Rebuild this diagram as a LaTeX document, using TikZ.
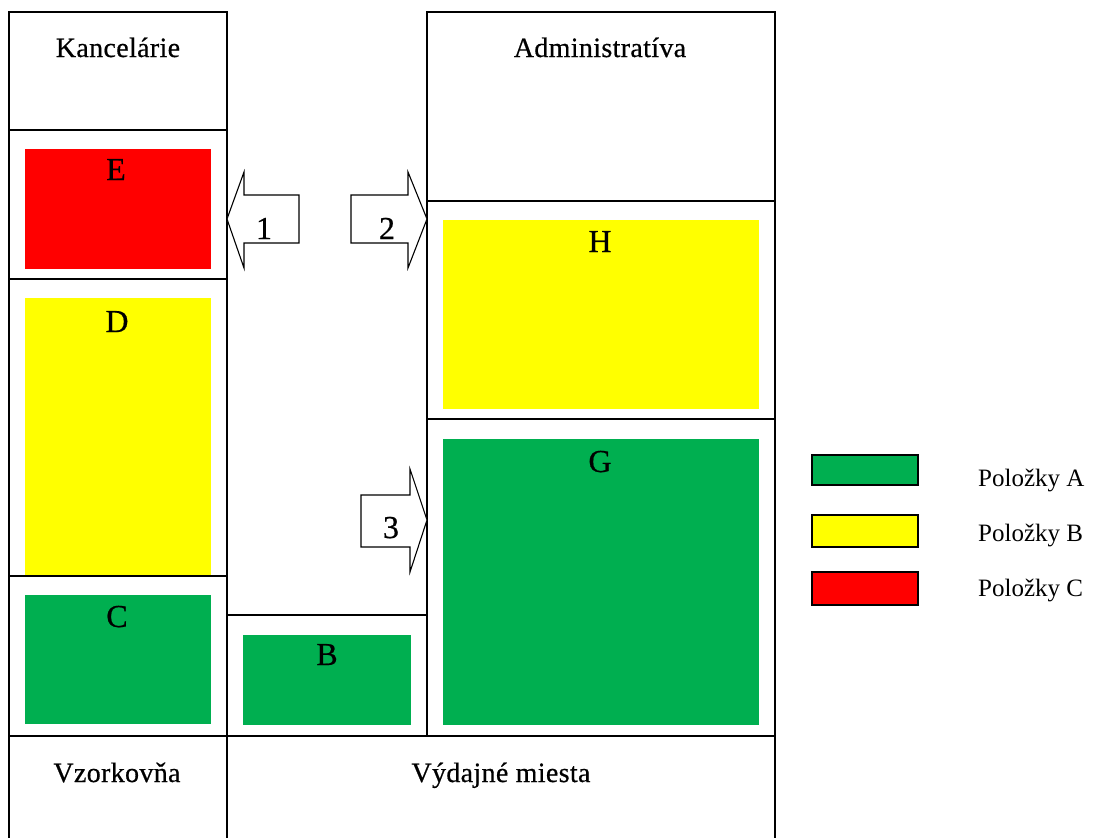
\documentclass[tikz,border=0pt]{standalone}
\usepackage{fontspec}
\setmainfont{Liberation Serif}
\newfontfamily\roomfont[FakeBold=0.6,LetterSpace=1.2]{Liberation Serif}
\newfontfamily\zonefont[FakeBold=0.6]{Liberation Serif}
\begin{document}
\begin{tikzpicture}[x=1pt,y=-1pt,
  wall/.style={draw=black,line width=1.3pt},
  room/.style={anchor=base,inner sep=0pt,font=\roomfont\fontsize{28}{31}\selectfont},
  zlabel/.style={anchor=base,inner sep=0pt,font=\zonefont\fontsize{32}{35}\selectfont},
  leg/.style={anchor=base west,inner sep=0pt,font=\fontsize{25}{28}\selectfont},
  legbox/.style={draw=black,line width=1.3pt},
  flow/.style={draw=black,line width=1.1pt,fill=white,line join=miter}]
\definecolor{zgreen}{HTML}{00AF50}
\definecolor{zyellow}{HTML}{FFFF00}
\definecolor{zred}{HTML}{FF0000}
\useasboundingbox (0,0) rectangle (1093,838);
% coloured zones
\fill[zred]    (25,149) rectangle (211,269);
\fill[zyellow] (25,298) rectangle (211,576);
\fill[zgreen]  (25,595) rectangle (211,724);
\fill[zgreen]  (243,635) rectangle (411,725);
\fill[zyellow] (443,220) rectangle (759,409);
\fill[zgreen]  (443,439) rectangle (759,725);
% walls
\draw[wall] (9,838) -- (9,12) -- (227,12) -- (227,838);
\draw[wall] (9,130) -- (227,130);
\draw[wall] (9,279) -- (227,279);
\draw[wall] (9,576) -- (227,576);
\draw[wall] (9,736) -- (775,736);
\draw[wall] (227,615) -- (427,615);
\draw[wall] (427,736) -- (427,12) -- (775,12) -- (775,838);
\draw[wall] (427,201) -- (775,201);
\draw[wall] (427,419) -- (775,419);
% flow arrows
\draw[flow] (227,219) -- (244,172) -- (244,195) -- (299,195) -- (299,243) -- (244,243) -- (244,268) -- cycle;
\draw[flow] (427,219) -- (408,172) -- (408,195) -- (351,195) -- (351,243) -- (408,243) -- (408,268) -- cycle;
\draw[flow] (427,520) -- (410,469) -- (410,495) -- (361,495) -- (361,547) -- (410,547) -- (410,572) -- cycle;
% room names
\node[room] (kanc) at (118,57) {Kancelárie};
\node[room] (adm) at (600,57) {Administratíva};
\node[room] (vzor) at (117,782) {Vzorkovňa};
\node[room] (vyd) at (501,782) {Výdajné miesta};
% zone letters
\node[zlabel] (E) at (116,180) {E};
\node[zlabel] (D) at (117,332) {D};
\node[zlabel] (C) at (117,627) {C};
\node[zlabel] (B) at (327,665) {B};
\node[zlabel] (H) at (600,252) {H};
\node[zlabel] (G) at (600,472) {G};
% arrow numbers
\node[zlabel] (n1) at (264,239) {1};
\node[zlabel] (n2) at (387,239) {2};
\node[zlabel] (n3) at (391,538) {3};
% legend
\draw[legbox,fill=zgreen]  (812,455) rectangle (918,485);
\draw[legbox,fill=zyellow] (812,515) rectangle (918,547);
\draw[legbox,fill=zred]    (812,572) rectangle (918,605);
\node[leg] (la) at (978,486) {Položky A};
\node[leg] (lb) at (978,541) {Položky B};
\node[leg] (lc) at (978,596) {Položky C};
\end{tikzpicture}
\end{document}
